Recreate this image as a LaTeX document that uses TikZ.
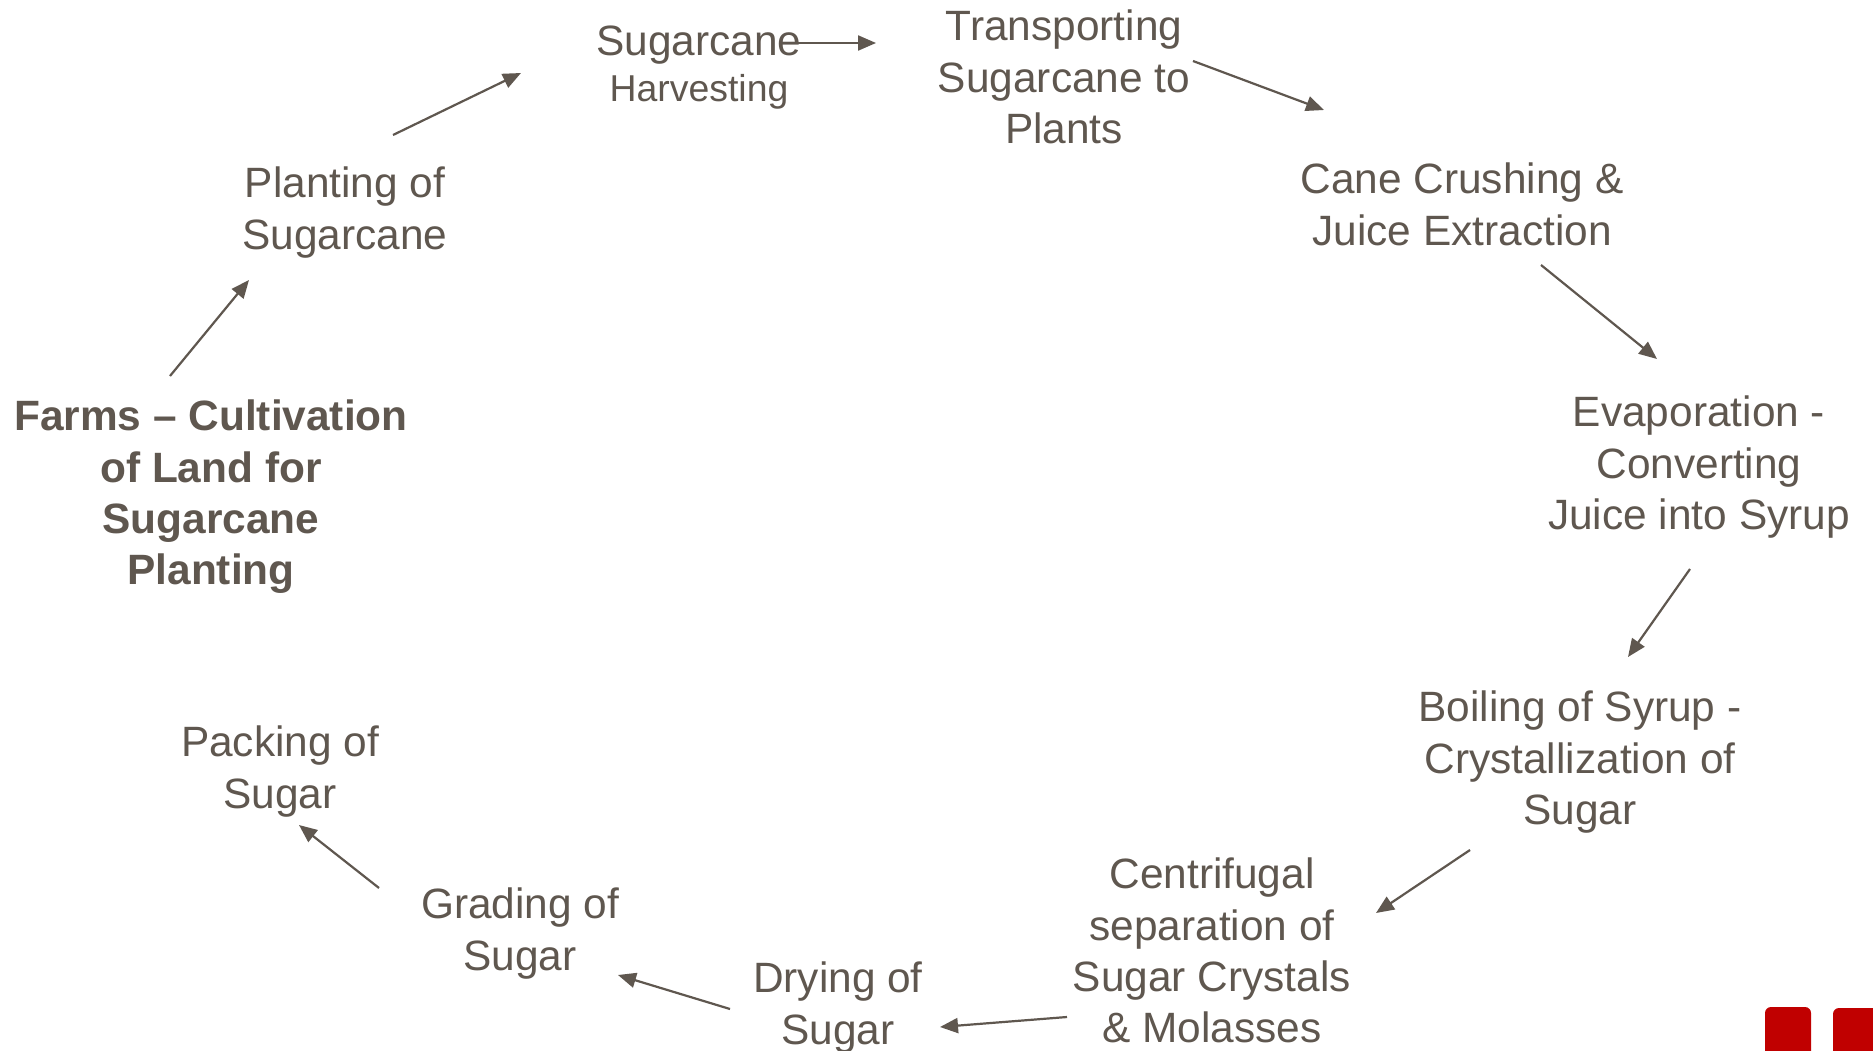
\documentclass[tikz,border=0pt]{standalone}
\usepackage{fontspec}
\setmainfont{Liberation Sans}
\usetikzlibrary{arrows.meta}
\definecolor{txt}{RGB}{95,87,79}
\definecolor{brand}{RGB}{192,0,0}
\begin{document}
\begin{tikzpicture}[x=1pt,y=-1pt,
  lbl/.style={anchor=north,align=center,inner sep=0pt,text=txt,font=\fontsize{42.4}{51.4}\selectfont},
  boldlbl/.style={lbl,font=\fontsize{42.4}{51.4}\selectfont\bfseries},
  conn/.style={draw=txt,line width=2.2pt,-{Triangle[length=18pt,width=15pt]}},
  brandsq/.style={fill=brand,rounded corners=6pt}]
\useasboundingbox (0,0) rectangle (1873,1051);
\clip (0,0) rectangle (1873,1051);
\fill[white] (0,0) rectangle (1873,1051);
% nodes
\node[boldlbl] (farms) at (211,394.5) {\strut Farms – Cultivation\\of Land for\\Sugarcane\\Planting};
\node[lbl] (plant) at (345,161.5) {\strut Planting of\\Sugarcane};
\node[lbl] (harv) at (699,19) {\strut Sugarcane\\[-4.8pt]{\fontsize{37.4}{46.6}\selectfont Harvesting}};
\node[lbl] (trans) at (1064,4.5) {\strut Transporting\\Sugarcane to\\Plants};
\node[lbl] (crush) at (1462,157.5) {\strut Cane Crushing \&\\Juice Extraction};
\node[lbl] (evap) at (1699,390.5) {\strut Evaporation -\\Converting\\Juice into Syrup};
\node[lbl] (boil) at (1580,685.5) {\strut Boiling of Syrup -\\Crystallization of\\Sugar};
\node[lbl] (centri) at (1212,852.5) {\strut Centrifugal\\separation of\\Sugar Crystals\\\& Molasses};
\node[lbl] (dry) at (838,956.5) {\strut Drying of\\Sugar};
\node[lbl] (grade) at (520,882.5) {\strut Grading of\\Sugar};
\node[lbl] (pack) at (280,720.5) {\strut Packing of\\Sugar};
% connector end points
\coordinate (a1) at (170,376);  \coordinate (a2) at (249,280);
\coordinate (b1) at (393,135);  \coordinate (b2) at (521,73);
\coordinate (c1) at (796,43);   \coordinate (c2) at (876,43);
\coordinate (d1) at (1193,61);  \coordinate (d2) at (1324,110);
\coordinate (e1) at (1541,265); \coordinate (e2) at (1657,359);
\coordinate (f1) at (1690,569); \coordinate (f2) at (1628,657);
\coordinate (g1) at (1470,850); \coordinate (g2) at (1376,913);
\coordinate (h1) at (1067,1017);\coordinate (h2) at (940,1027);
\coordinate (i1) at (730,1009); \coordinate (i2) at (618,975);
\coordinate (j1) at (379,888);  \coordinate (j2) at (299,825);
\draw[conn] (a1) -- (a2);
\draw[conn] (b1) -- (b2);
\draw[conn] (c1) -- (c2);
\draw[conn] (d1) -- (d2);
\draw[conn] (e1) -- (e2);
\draw[conn] (f1) -- (f2);
\draw[conn] (g1) -- (g2);
\draw[conn] (h1) -- (h2);
\draw[conn] (i1) -- (i2);
\draw[conn] (j1) -- (j2);
% brand squares
\fill[brandsq] (1765,1007) rectangle (1811,1060);
\fill[brandsq] (1833,1008) rectangle (1885,1060);
\end{tikzpicture}
\end{document}
